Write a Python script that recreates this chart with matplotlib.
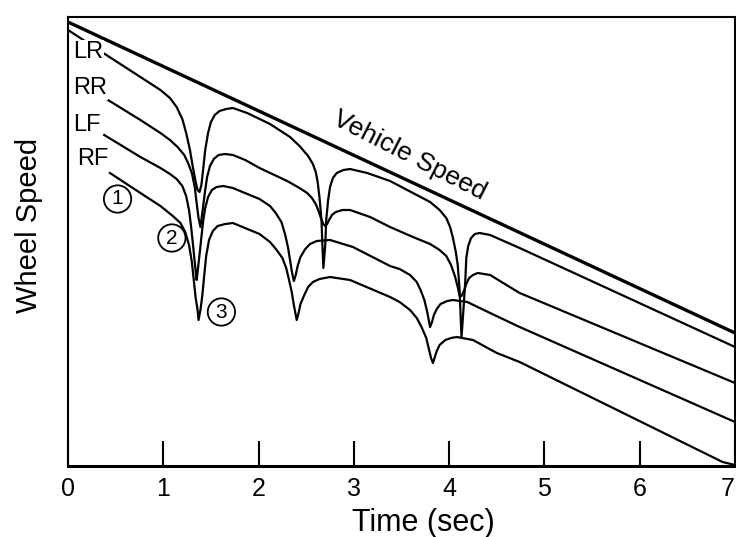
import matplotlib
matplotlib.use("Agg")
import matplotlib.pyplot as plt

plt.rcParams['font.family'] = ['Liberation Sans', 'DejaVu Sans']

# Time axis (s) and tick labels
x_ticks = [0, 1, 2, 3, 4, 5, 6, 7]
x_ticklabels = ["0", "1", "2", "3", "4", "5", "6", "7"]

# Vehicle speed (arbitrary speed units)
vehicle_t = [0.00, 7.00]
vehicle_v = [444, 133]

# Left rear wheel
lr_t = [0.00, 0.37, 0.76, 0.97, 1.07, 1.14, 1.20, 1.24, 1.28, 1.31, 1.34, 1.36, 1.38,
        1.40, 1.42, 1.44, 1.47, 1.50, 1.54, 1.59, 1.66, 1.73, 1.88, 2.12, 2.33, 2.43,
        2.52, 2.57, 2.60, 2.62, 2.64, 2.66, 2.67, 2.68, 2.70, 2.71, 2.73, 2.75, 2.78,
        2.82, 2.89, 2.96, 3.14, 3.38, 3.62, 3.80, 3.90, 3.97, 4.01, 4.04, 4.07, 4.09,
        4.11, 4.12, 4.13, 4.15, 4.17, 4.18, 4.20, 4.23, 4.27, 4.32, 4.43, 4.74, 7.00]
lr_v = [436, 413, 389, 376, 368, 359, 347, 333, 316, 299, 284, 276, 274,
        281, 298, 316, 333, 344, 351, 355, 357, 358, 353, 342, 329, 320,
        310, 302, 294, 284, 268, 246, 221, 198, 221, 246, 266, 279, 288,
        293, 296, 297, 293, 285, 273, 264, 256, 248, 239, 228, 214, 201,
        176, 151, 129, 156, 186, 208, 220, 228, 232, 233, 231, 218, 119]

# Right rear wheel
rr_t = [0.42, 0.76, 0.97, 1.07, 1.15, 1.22, 1.26, 1.30, 1.33, 1.35, 1.37, 1.39, 1.40,
        1.42, 1.44, 1.46, 1.49, 1.53, 1.58, 1.65, 1.73, 1.86, 2.01, 2.30, 2.43, 2.51,
        2.56, 2.60, 2.63, 2.65, 2.68, 2.70, 2.72, 2.74, 2.77, 2.81, 2.88, 2.96, 3.17,
        3.38, 3.62, 3.80, 3.90, 3.97, 4.02, 4.06, 4.09, 4.11, 4.13, 4.16, 4.18, 4.21,
        4.25, 4.30, 4.43, 4.74, 7.00]
rr_v = [366, 346, 333, 326, 319, 311, 303, 293, 279, 263, 248, 239, 246,
        261, 276, 289, 300, 307, 311, 312, 311, 306, 298, 285, 278, 273,
        268, 262, 255, 249, 242, 240, 242, 246, 251, 254, 256, 256, 249,
        239, 229, 222, 216, 210, 201, 190, 179, 170, 170, 176, 182, 188,
        191, 193, 191, 173, 83]

# Left front wheel
lf_t = [0.38, 0.76, 0.97, 1.07, 1.14, 1.20, 1.24, 1.27, 1.29, 1.31, 1.33, 1.35, 1.36,
        1.38, 1.40, 1.42, 1.44, 1.47, 1.51, 1.56, 1.63, 1.73, 2.01, 2.12, 2.18, 2.24,
        2.28, 2.31, 2.33, 2.35, 2.37, 2.39, 2.41, 2.44, 2.49, 2.54, 2.61, 2.75, 2.99,
        3.38, 3.48, 3.59, 3.66, 3.70, 3.74, 3.77, 3.80, 3.82, 3.84, 3.87, 3.91, 3.98,
        4.04, 4.19, 4.43, 4.74, 7.00]
lf_v = [331, 309, 298, 292, 287, 280, 270, 256, 241, 223, 204, 186, 194,
        211, 229, 246, 258, 269, 276, 279, 280, 278, 267, 260, 253, 244,
        231, 218, 206, 194, 185, 191, 200, 209, 217, 222, 225, 226, 219,
        200, 197, 191, 184, 176, 166, 154, 139, 144, 151, 157, 162, 165,
        166, 164, 153, 139, 44]

# Right front wheel
rf_t = [0.44, 0.76, 0.97, 1.10, 1.18, 1.23, 1.27, 1.30, 1.32, 1.34, 1.36, 1.37, 1.39,
        1.41, 1.43, 1.45, 1.48, 1.52, 1.57, 1.65, 1.73, 2.01, 2.12, 2.19, 2.25, 2.29,
        2.32, 2.35, 2.37, 2.39, 2.40, 2.42, 2.44, 2.48, 2.52, 2.57, 2.64, 2.75, 2.96,
        3.38, 3.48, 3.59, 3.66, 3.71, 3.76, 3.79, 3.81, 3.83, 3.85, 3.87, 3.90, 3.96,
        4.02, 4.08, 4.25, 4.50, 4.74, 6.87, 7.00]
rf_v = [293, 273, 260, 250, 243, 234, 221, 204, 186, 168, 156, 146, 156,
        171, 191, 210, 226, 235, 240, 242, 243, 232, 224, 216, 208, 198,
        186, 173, 161, 151, 146, 153, 162, 171, 179, 184, 187, 189, 186,
        169, 164, 156, 148, 139, 128, 116, 108, 103, 109, 115, 121, 126,
        128, 129, 126, 113, 104, 4, 1]

wheel_labels = ["LR", "RR", "LF", "RF"]
wheel_label_t = [0.05, 0.05, 0.05, 0.10]
wheel_label_v = [414, 378, 341, 307]

circle_labels = ["1", "2", "3"]
circle_t = [0.52, 1.09, 1.61]
circle_v = [267, 228, 154]

fig = plt.figure(figsize=(7.36, 5.37), dpi=100)
ax = fig.add_axes([68/736, 1-466/537, (735-68)/736, (466-17)/537])

ax.plot(vehicle_t, vehicle_v, color='black', lw=2.4, solid_capstyle='butt')
for t, v in [(lr_t, lr_v), (rr_t, rr_v), (lf_t, lf_v), (rf_t, rf_v)]:
    ax.plot(t, v, color='black', lw=1.6, solid_joinstyle='round')

ax.set_xlim(0, 7)
ax.set_ylim(0, 449)
ax.set_xticks(x_ticks)
ax.set_xticklabels(x_ticklabels, fontsize=18)
ax.get_xticklabels()[-1].set_ha('right')
ax.set_yticks([])
ax.tick_params(axis='x', direction='in', length=18, width=1.5, pad=8, top=False)
for side in ['left', 'top', 'right']:
    ax.spines[side].set_linewidth(1.5)
ax.spines['bottom'].set_linewidth(2.2)

for lab, t, v in zip(wheel_labels, wheel_label_t, wheel_label_v):
    ax.text(t, v, lab, fontsize=17, ha='left', va='center',
            bbox=dict(boxstyle='square,pad=0.05', fc='white', ec='none'))

for lab, t, v in zip(circle_labels, circle_t, circle_v):
    ax.text(t, v, lab, fontsize=15, ha='center', va='center',
            bbox=dict(boxstyle='circle,pad=0.2', fc='none', ec='black', lw=1.3))

ax.text(3.58, 310, "Vehicle Speed", fontsize=19, rotation=-27,
        ha='center', va='center', rotation_mode='anchor')

fig.text(29/736, 1-225/537, "Wheel Speed", fontsize=21, rotation=90,
         ha='center', va='center')
fig.text(423/736, 1-523/537, "Time (sec)", fontsize=22, ha='center', va='center')

fig.savefig("out.png", dpi=100)
